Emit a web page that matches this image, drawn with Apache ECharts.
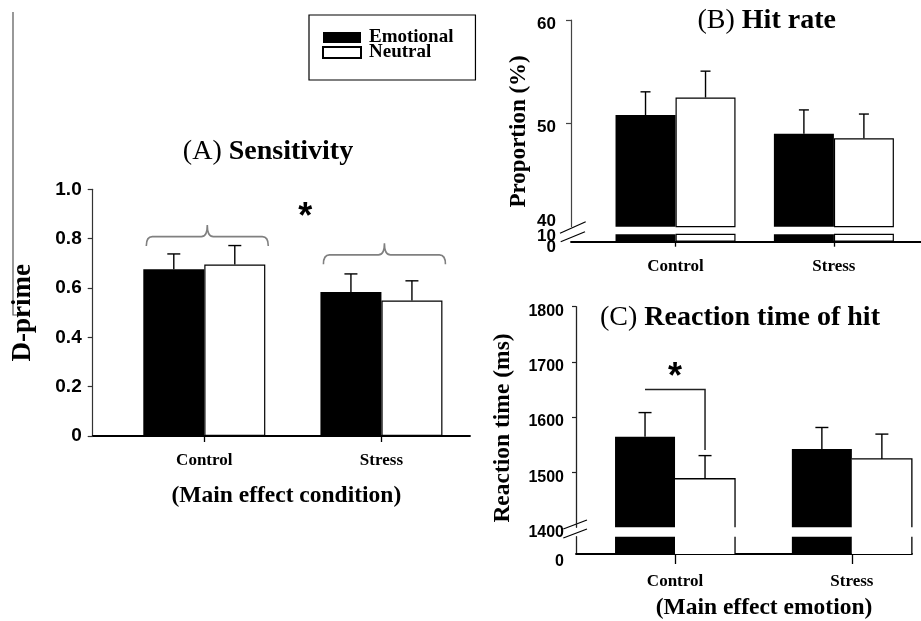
<!DOCTYPE html>
<html><head><meta charset="utf-8">
<script src="https://cdn.jsdelivr.net/npm/echarts@6/dist/echarts.min.js"></script>
<style>html,body{margin:0;padding:0;background:#fff}#c{width:921px;height:621px}</style>
</head><body><div id="c"></div><script>
// ---------- data ----------
const categories = ['Control', 'Stress'];
const seriesNames = ['Emotional', 'Neutral'];
// (A) Sensitivity (D-prime)
const sensEmotional = [0.676, 0.584];
const sensNeutral = [0.695, 0.549];
const sensEmotionalErr = [0.062, 0.073];
const sensNeutralErr = [0.077, 0.080];
const sensBraceLevels = [0.808, 0.734];
const sensStar = [1.57, 0.916];
// (B) Hit rate (%)
const hitEmotional = [50.8, 49.0];
const hitNeutral = [52.5, 48.55];
const hitEmotionalErr = [2.25, 2.3];
const hitNeutralErr = [2.55, 2.35];
const hitLowerTickLabels = ['10', '0'];   // stacked labels of the squeezed 0-10 segment
// (C) Reaction time of hit (ms)
const rtEmotional = [1564, 1542];
const rtNeutral = [1488, 1524];
const rtEmotionalErr = [44, 39];
const rtNeutralErr = [42, 45];
const rtSigBracket = [1650, 1540];
const rtStar = [1, 1685];

// ---------- helpers ----------
const SANS = '"Liberation Sans", Arial, sans-serif';
const SERIF = '"Liberation Serif", "Times New Roman", serif';
const catX = [1, 2];
const chart = echarts.init(document.getElementById('c'));

const grids = [
  {left: 92.7, top: 189.3, width: 377.3, height: 246.7},  // A
  {left: 571, top: 20, width: 350, height: 206.7},        // B upper
  {left: 571, top: 234.3, width: 350, height: 7.4},       // B lower
  {left: 576, top: 306.7, width: 336, height: 220.6},     // C upper
  {left: 576, top: 536.7, width: 336, height: 19.3}       // C lower
];
const BW = {A: 61, B: 60, C: 60};

function hiddenX(gi, min, max) {
  return {type: 'value', gridIndex: gi, min, max, splitLine: {show: false},
    axisLine: {show: false}, axisTick: {show: false}, axisLabel: {show: false}};
}
function shownX(gi, min, max, tickLen, margin, name, nameGap, namePad) {
  const ax = {type: 'value', gridIndex: gi, min, max, splitLine: {show: false},
    axisLine: {show: true, onZero: false, lineStyle: {color: '#000', width: 1.8}},
    axisTick: {show: true, customValues: catX, length: tickLen, lineStyle: {color: '#000', width: 1.3}},
    axisLabel: {show: true, customValues: catX, formatter: v => categories[Math.round(v) - 1],
      margin, fontFamily: SERIF, fontWeight: 'bold', fontSize: 17, color: '#000'}};
  if (name) {
    Object.assign(ax, {name, nameLocation: 'middle', nameGap,
      nameTextStyle: {fontFamily: SERIF, fontWeight: 'bold', fontSize: 23.5, color: '#000', padding: namePad}});
  }
  return ax;
}
const yLabelBase = {fontFamily: SANS, fontWeight: 'bold', color: '#000'};

function barPair(gi, em, ne, bw, neutralBorder) {
  return [
    {name: 'Emotional', type: 'bar', xAxisIndex: gi, yAxisIndex: gi, barWidth: bw, barGap: '0%', clip: true,
      data: catX.map((x, i) => [x, em[i]]), itemStyle: {color: '#000'}, silent: true},
    {name: 'Neutral', type: 'bar', xAxisIndex: gi, yAxisIndex: gi, barWidth: bw, barGap: '0%', clip: true,
      data: catX.map((x, i) => [x, ne[i]]),
      itemStyle: neutralBorder ? {color: '#fff', borderColor: '#000', borderWidth: 1.2} : {color: '#fff', borderWidth: 0},
      silent: true}
  ];
}
function errSeries(gi, vals, errs, sIdx, bw, capW) {
  return {type: 'custom', xAxisIndex: gi, yAxisIndex: gi, z: 3, silent: true, encode: {x: 0, y: 1},
    data: catX.map((x, i) => [x, vals[i], errs[i]]),
    renderItem: (p, api) => {
      const b = api.coord([api.value(0), api.value(1)]);
      const h = api.coord([api.value(0), api.value(1) + api.value(2)]);
      const cx = b[0] + (sIdx === 0 ? -bw / 2 : bw / 2);
      const st = {stroke: '#000', lineWidth: 1.4};
      return {type: 'group', children: [
        {type: 'line', shape: {x1: cx, y1: b[1], x2: cx, y2: h[1]}, style: st},
        {type: 'line', shape: {x1: cx - capW / 2, y1: h[1], x2: cx + capW / 2, y2: h[1]}, style: st}
      ]};
    }};
}
function outlineSeries(gi, vals, bw, lower) {
  return {type: 'custom', xAxisIndex: gi, yAxisIndex: gi, z: 3, silent: true, encode: {x: 0, y: 1},
    data: catX.map((x, i) => [x, vals[i]]),
    renderItem: (p, api) => {
      const cs = p.coordSys;
      const c = api.coord([api.value(0), api.value(1)]);
      const l = c[0], r = c[0] + bw, bottom = cs.y + cs.height, top = Math.max(c[1], cs.y);
      const pts = lower ? [[r, top], [r, bottom]] : [[l, top], [r, top], [r, bottom]];
      return {type: 'polyline', shape: {points: pts}, style: {stroke: '#000', lineWidth: 1.3, fill: null}};
    }};
}
function starSeries(gi, pos) {
  return {type: 'custom', xAxisIndex: gi, yAxisIndex: gi, z: 4, silent: true, encode: {x: 0, y: 1},
    data: [pos],
    renderItem: (p, api) => {
      const c = api.coord([api.value(0), api.value(1)]);
      return {type: 'text', x: c[0], y: c[1] + 8, style: {text: '*', fontFamily: SANS, fontWeight: 'bold',
        fontSize: 36, fill: '#000', align: 'center', verticalAlign: 'middle'}};
    }};
}

const series = [
  ...barPair(0, sensEmotional, sensNeutral, BW.A, true),
  errSeries(0, sensEmotional, sensEmotionalErr, 0, BW.A, 13),
  errSeries(0, sensNeutral, sensNeutralErr, 1, BW.A, 13),
  {type: 'custom', xAxisIndex: 0, yAxisIndex: 0, z: 3, silent: true, encode: {x: 0, y: 1},
    data: catX.map((x, i) => [x, sensBraceLevels[i]]),
    renderItem: (p, api) => {
      const c = api.coord([api.value(0), api.value(1)]);
      const m = c[0] + 3, y = c[1], L = m - 61, R = m + 61, r = 6, d = 9.3, n = 11.7;
      const path = `M${L},${y + d} Q${L},${y} ${L + r},${y} L${m - r},${y} Q${m},${y} ${m},${y - n} ` +
        `Q${m},${y} ${m + r},${y} L${R - r},${y} Q${R},${y} ${R},${y + d}`;
      return {type: 'path', shape: {pathData: path}, style: {stroke: '#808080', lineWidth: 1.6, fill: 'none'}};
    }},
  starSeries(0, sensStar),

  ...barPair(1, hitEmotional, hitNeutral, BW.B, true),
  ...barPair(2, hitEmotional, hitNeutral, BW.B, true),
  errSeries(1, hitEmotional, hitEmotionalErr, 0, BW.B, 10),
  errSeries(1, hitNeutral, hitNeutralErr, 1, BW.B, 10),

  ...barPair(3, rtEmotional, rtNeutral, BW.C, false),
  ...barPair(4, rtEmotional, rtNeutral, BW.C, false),
  outlineSeries(3, rtNeutral, BW.C, false),
  outlineSeries(4, rtNeutral, BW.C, true),
  errSeries(3, rtEmotional, rtEmotionalErr, 0, BW.C, 13),
  errSeries(3, rtNeutral, rtNeutralErr, 1, BW.C, 13),
  {type: 'custom', xAxisIndex: 3, yAxisIndex: 3, z: 3, silent: true, encode: {x: 0, y: 1},
    data: [[1, rtSigBracket[0], rtSigBracket[1]]],
    renderItem: (p, api) => {
      const t = api.coord([api.value(0), api.value(1)]);
      const b = api.coord([api.value(0), api.value(2)]);
      const l = t[0] - BW.C / 2, r = t[0] + BW.C / 2;
      return {type: 'polyline', shape: {points: [[l, t[1]], [r, t[1]], [r, b[1]]]},
        style: {stroke: '#222', lineWidth: 1.5, fill: null}};
    }},
  starSeries(3, rtStar)
];

const brk = {stroke: '#000', lineWidth: 1.2};
const titleRich = (a, b) => ({text: `{a|${a} }{b|${b}}`, align: 'center', verticalAlign: 'middle',
  rich: {a: {fontFamily: SERIF, fontSize: 28, fill: '#000'},
         b: {fontFamily: SERIF, fontSize: 28, fontWeight: 'bold', fill: '#000'}}});

const option = {
  animation: false,
  backgroundColor: '#fff',
  legend: {data: seriesNames, orient: 'vertical', left: 309, top: 15, itemWidth: 38, itemHeight: 11,
    itemGap: -4, padding: [13, 22, 18, 13], borderColor: '#000', borderWidth: 1.2, selectedMode: false,
    icon: 'rect', textStyle: {fontFamily: SERIF, fontWeight: 'bold', fontSize: 19, color: '#000',
      padding: [0, 0, 0, 3]}},
  grid: grids,
  xAxis: [
    shownX(0, 0.37, 2.5, 6, 16, '(Main effect condition)', 48, [0, 0, 0, 10]),
    hiddenX(1, 0.34, 2.55),
    shownX(2, 0.34, 2.55, 5, 16.5),
    hiddenX(3, 0.44, 2.34),
    shownX(4, 0.44, 2.34, 10, 19, '(Main effect emotion)', 42, [0, 0, 0, 40])
  ],
  yAxis: [
    {type: 'value', gridIndex: 0, min: 0, max: 1, interval: 0.2, splitLine: {show: false},
      axisLine: {show: true, onZero: false, lineStyle: {color: '#333', width: 1.2}},
      axisTick: {show: true, length: 5, lineStyle: {color: '#333', width: 1.2}},
      axisLabel: Object.assign({margin: 11, fontSize: 19, formatter: v => v === 0 ? '0' : v.toFixed(1)}, yLabelBase),
      name: 'D-prime', nameLocation: 'middle', nameRotate: 90, nameGap: 56,
      nameTextStyle: {fontFamily: SERIF, fontWeight: 'bold', fontSize: 27, color: '#000'}},
    {type: 'value', gridIndex: 1, min: 40, max: 60, interval: 10, splitLine: {show: false},
      axisLine: {show: true, onZero: false, lineStyle: {color: '#444', width: 1.2}},
      axisTick: {show: true, customValues: [50, 60], length: 5, lineStyle: {color: '#444', width: 1.2}},
      axisLabel: Object.assign({margin: 15, fontSize: 17, showMinLabel: true, showMaxLabel: true,
        formatter: v => v === 40 ? '{u|40}' : '{d|' + v + '}',
        rich: {u: {padding: [0, 0, 10, 0]}, d: {padding: [8, 0, 0, 0]}}}, yLabelBase),
      name: 'Proportion (%)', nameLocation: 'middle', nameRotate: 90, nameGap: 40,
      nameTextStyle: {fontFamily: SERIF, fontWeight: 'bold', fontSize: 23, color: '#000', padding: [0, 16, 0, 0]}},
    {type: 'value', gridIndex: 2, min: 0, max: 10, splitLine: {show: false},
      axisLine: {show: false, onZero: false}, axisTick: {show: false},
      axisLabel: Object.assign({margin: 15, fontSize: 17, customValues: [0],
        formatter: () => hitLowerTickLabels.map(t => '{s|' + t + '}').join('\n'),
        rich: {s: {lineHeight: 11.5}}}, yLabelBase)},
    {type: 'value', gridIndex: 3, min: 1400, max: 1800, interval: 100, splitLine: {show: false},
      axisLine: {show: true, onZero: false, lineStyle: {color: '#222', width: 1.3}},
      axisTick: {show: true, customValues: [1500, 1600, 1700, 1800], length: 4, lineStyle: {color: '#222', width: 1.2}},
      axisLabel: Object.assign({margin: 12, fontSize: 16, showMinLabel: true, showMaxLabel: true,
        formatter: v => '{d|' + v + '}', rich: {d: {padding: [10, 0, 0, 0]}}}, yLabelBase),
      name: 'Reaction time (ms)', nameLocation: 'middle', nameRotate: 90, nameGap: 61,
      nameTextStyle: {fontFamily: SERIF, fontWeight: 'bold', fontSize: 23.5, color: '#000', padding: [0, 22, 0, 0]}},
    {type: 'value', gridIndex: 4, min: 0, max: 100, splitLine: {show: false},
      axisLine: {show: true, onZero: false, lineStyle: {color: '#222', width: 1.3}}, axisTick: {show: false},
      axisLabel: Object.assign({margin: 12, fontSize: 16, customValues: [0],
        formatter: v => '{d|' + v + '}', rich: {d: {padding: [16, 0, 0, 0]}}}, yLabelBase)}
  ],
  graphic: [
    {type: 'polyline', shape: {points: [[13, 12], [13, 315], [25, 315]]}, style: {stroke: '#555', lineWidth: 1.2, fill: null}, silent: true},
    {type: 'text', x: 268, y: 151.5, style: titleRich('(A)', 'Sensitivity'), silent: true},
    {type: 'text', x: 766.7, y: 21, style: titleRich('(B)', 'Hit rate'), silent: true},
    {type: 'text', x: 740, y: 318, style: titleRich('(C)', 'Reaction time of hit'), silent: true},
    // axis break marks
    {type: 'line', shape: {x1: 560, y1: 233.3, x2: 585.7, y2: 221.7}, style: brk, silent: true},
    {type: 'line', shape: {x1: 560.7, y1: 241.7, x2: 585, y2: 231.7}, style: brk, silent: true},
    {type: 'line', shape: {x1: 563.3, y1: 529, x2: 587, y2: 520}, style: brk, silent: true},
    {type: 'line', shape: {x1: 563.3, y1: 538, x2: 587, y2: 529}, style: brk, silent: true}
  ],
  series
};
chart.setOption(option);
</script></body></html>
